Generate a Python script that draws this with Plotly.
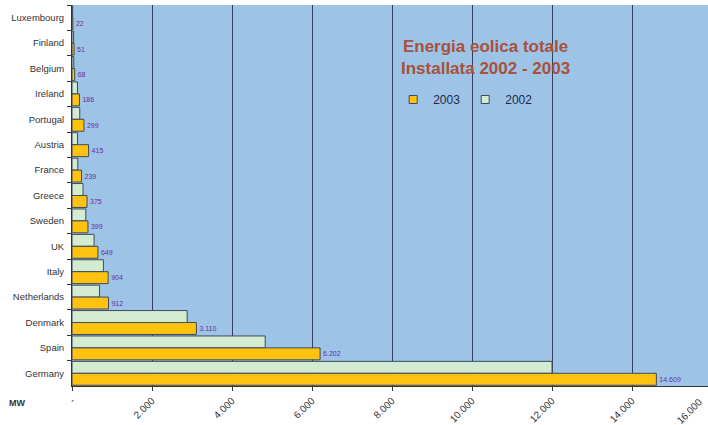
import plotly.graph_objects as go

countries = ["Luxembourg", "Finland", "Belgium", "Ireland", "Portugal", "Austria",
             "France", "Greece", "Sweden", "UK", "Italy", "Netherlands",
             "Denmark", "Spain", "Germany"]
mw_2002 = [16, 41, 44, 137, 194, 139, 145, 276, 345, 552, 785, 688, 2880, 4830, 12001]
mw_2003 = [22, 51, 68, 186, 299, 415, 239, 375, 399, 649, 904, 912, 3110, 6202, 14609]
tick_vals = [0, 2000, 4000, 6000, 8000, 10000, 12000, 14000, 16000]
tick_text = ["-", "2.000", "4.000", "6.000", "8.000", "10.000", "12.000", "14.000", "16.000"]

color_2002 = "#D3EBD0"
color_2003 = "#FFC20E"
edge = "#3E4A5E"

fig = go.Figure()
fig.add_trace(go.Bar(
    y=countries, x=mw_2002, name="2002", orientation="h", showlegend=False,
    marker=dict(color=color_2002, line=dict(color=edge, width=1)),
))
fig.add_trace(go.Bar(
    y=countries, x=mw_2003, name="2003", orientation="h", showlegend=False,
    marker=dict(color=color_2003, line=dict(color=edge, width=1)),
    text=[f"{v:,}".replace(",", ".") for v in mw_2003],
    textposition="outside", cliponaxis=False,
    textfont=dict(size=7, color="#6A2FA0", family="Liberation Sans"),
))
# legend entries with small square symbols
for name, col in [("2003", color_2003), ("2002", color_2002)]:
    fig.add_trace(go.Scatter(
        x=[None], y=[None], mode="markers", name=name,
        marker=dict(symbol="square", size=8, color=col, line=dict(color=edge, width=1)),
    ))

fig.update_layout(
    width=708, height=425,
    margin=dict(l=72, r=0, t=5, b=37),
    paper_bgcolor="white", plot_bgcolor="#9DC3E6",
    barmode="group", bargap=0.06, bargroupgap=0,
    separators=",.",
    font=dict(family="Liberation Sans", size=9, color="#333333"),
    showlegend=True,
    legend=dict(orientation="h", x=0.505, y=0.79, xanchor="left", yanchor="top",
                itemwidth=30, bgcolor="rgba(0,0,0,0)",
                font=dict(size=12, color="#1F2A4A", family="Liberation Sans")),
    xaxis=dict(range=[0, 15900], tickvals=tick_vals, ticktext=tick_text,
               tickangle=-45, showgrid=True, gridcolor="#33415E", gridwidth=1,
               zeroline=False, showline=True, linecolor="#333333",
               ticks="outside", ticklen=4, tickcolor="#333333",
               tickfont=dict(size=10, color="#333333")),
    yaxis=dict(autorange="reversed", showgrid=False, showline=True,
               linecolor="#333333", ticks="outside", ticklen=4,
               tickcolor="#333333", tickson="boundaries", ticklabelstandoff=5,
               tickfont=dict(size=9.5, color="#333333")),
    annotations=[
        dict(text="<b>Energia eolica totale<br>Installata 2002 - 2003</b>",
             xref="paper", yref="paper", x=0.65, y=0.92, showarrow=False,
             font=dict(size=17, color="#A8513C", family="Liberation Sans")),
        dict(text="<b>MW</b>", xref="paper", yref="paper", x=-0.086, y=-0.045,
             xanchor="center", yanchor="middle", showarrow=False,
             font=dict(size=9, color="#333333")),
        dict(text="16.000", xref="paper", yref="paper", x=0.998, y=-0.02,
             xanchor="right", yanchor="top", textangle=-45, showarrow=False,
             font=dict(size=10, color="#333333")),
    ],
)

fig.write_html("out.html")
